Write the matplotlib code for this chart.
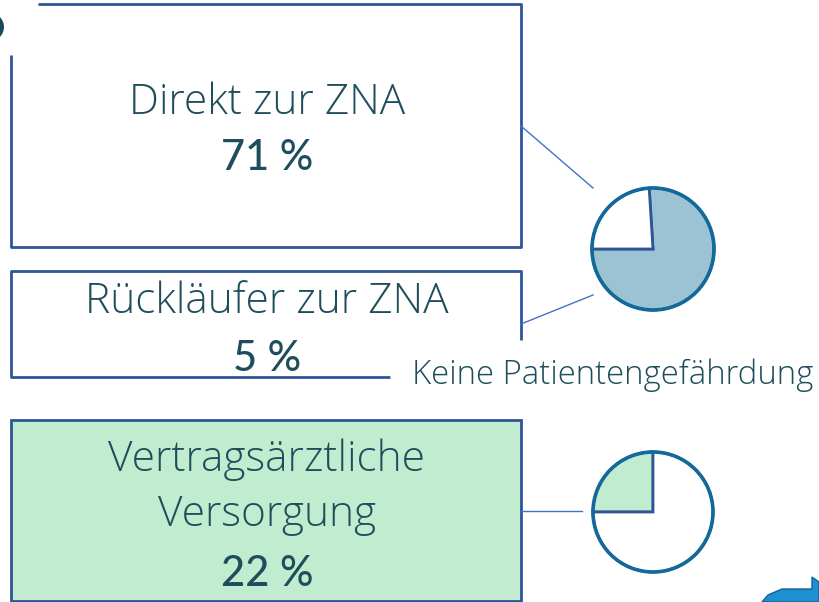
import matplotlib
matplotlib.use("Agg")
import matplotlib.pyplot as plt
from matplotlib.patches import Rectangle, Circle, Polygon

# ---- data ----
box_titles = ["Direkt zur ZNA", "Rückläufer zur ZNA", "Vertragsärztliche", "Versorgung"]
box_percents = ["71 %", "5 %", "22 %"]
pie1_values = [76, 24]   # blue (ZNA total) vs rest
pie2_values = [25, 75]   # green (Vertragsärztliche Versorgung) vs rest
pie_label = "Keine Patientengefährdung"

W, H = 819, 602
fig = plt.figure(figsize=(W / 100, H / 100), dpi=100)
ax = fig.add_axes([0, 0, 1, 1])
ax.set_xlim(0, W)
ax.set_ylim(0, H)
ax.axis("off")

def Y(y):
    return H - y

TXT = "#1e4e5c"
EDGE = "#2f5597"
LINE = "#4472c4"
FONT = ["Open Sans", "DejaVu Sans"]
FONT2 = ["Lato", "DejaVu Sans"]

# Box 1 (top-left corner hidden)
ax.plot([38, 521, 521, 11, 11], [Y(4), Y(4), Y(247), Y(247), Y(55)], color=EDGE, lw=2, solid_capstyle="butt")
# Box 2 (partly covered by the label)
ax.plot([390, 11, 11, 521, 521], [Y(377), Y(377), Y(271), Y(271), Y(340)], color=EDGE, lw=2, solid_capstyle="butt")
# Box 3 green
ax.add_patch(Rectangle((11, Y(601)), 510, 181, facecolor="#c1ecd0", edgecolor=EDGE, lw=2))

# texts
tkw = dict(ha="center", va="baseline", fontsize=30.5, color=TXT, family=FONT, fontweight="light")
pkw = dict(ha="center", va="baseline", fontsize=30, color=TXT, family=FONT2, fontweight="medium")
ax.text(267, Y(114), box_titles[0], **tkw)
ax.text(267, Y(170), box_percents[0], **pkw)
ax.text(267, Y(313), box_titles[1], **tkw)
ax.text(267, Y(371), box_percents[1], **pkw)
ax.text(267, Y(471), box_titles[2], **tkw)
ax.text(267, Y(526), box_titles[3], **tkw)
ax.text(267, Y(586), box_percents[2], **pkw)
ax.text(412, Y(384), pie_label, ha="left", va="baseline", fontsize=23.7, color=TXT, family=FONT, fontweight="light")

# connectors
ax.plot([521, 593], [Y(126), Y(188)], color=LINE, lw=1)
ax.plot([521, 593], [Y(324), Y(295)], color=LINE, lw=1)
ax.plot([521, 582], [Y(511), Y(511)], color=LINE, lw=1)

# pies
ax.pie(pie1_values, colors=["#9cc3d4", "white"], startangle=180, counterclock=True,
       center=(653, Y(249)), radius=61, frame=True,
       wedgeprops=dict(edgecolor=EDGE, linewidth=2))
ax.add_patch(Circle((653, Y(249)), 61, fill=False, edgecolor="#13699a", lw=2.6))
ax.pie(pie2_values, colors=["#c1ecd0", "white"], startangle=180, counterclock=False,
       center=(653, Y(512)), radius=60, frame=True,
       wedgeprops=dict(edgecolor=EDGE, linewidth=2))
ax.add_patch(Circle((653, Y(512)), 60, fill=False, edgecolor="#13699a", lw=2.6))

# decorative fragments at the edges
ax.add_patch(Circle((-10, Y(27)), 14, facecolor="#1a4a5a", edgecolor="none"))
ax.add_patch(Polygon([(762, Y(602)), (768, Y(595)), (782, Y(589)), (812, Y(589)), (812, Y(577)),
                      (819, Y(582)), (819, Y(602))], closed=True, facecolor="#1e8fd0", edgecolor="#15609a", lw=1))

ax.set_xlim(0, W)
ax.set_ylim(0, H)
ax.set_aspect("auto")
ax.axis("off")
fig.savefig("out.png", dpi=100)
